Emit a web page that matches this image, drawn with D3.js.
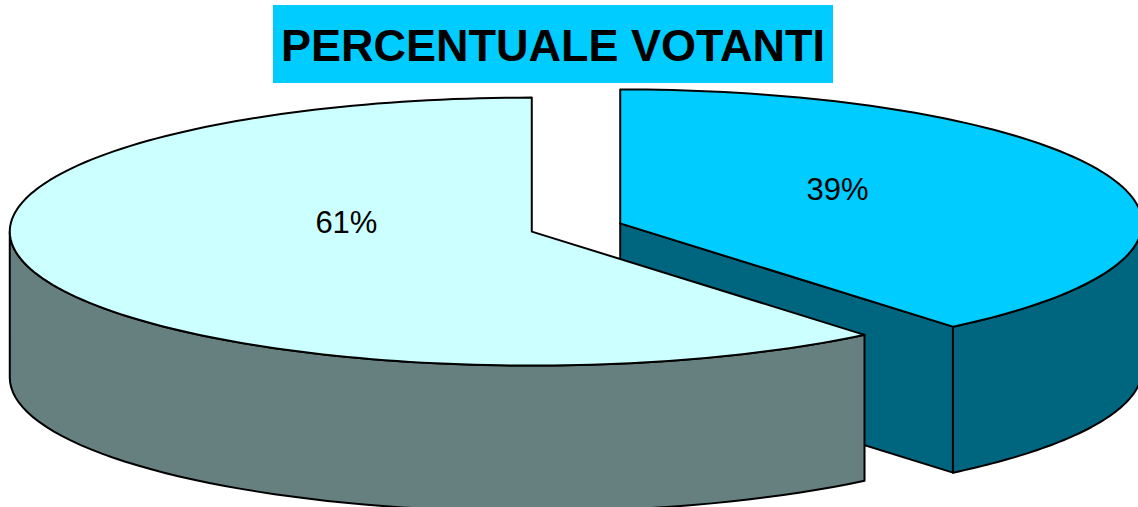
<!DOCTYPE html>
<html>
<head>
<meta charset="utf-8">
<script src="https://cdn.jsdelivr.net/npm/d3@7"></script>
<style>
    body { margin: 0; background: #fff; }
</style>
</head>
<body>
<script>
//data for the 3d pie
var categories = ["Votanti", "Non votanti"];
var values = [39, 61];
var labels = ["39%", "61%"];
var topColors = ["#00CCFF", "#CCFFFF"];
var sideColors = ["#006680", "#668080"];
var title = "PERCENTUALE VOTANTI";

window.onload = function () {
    var w = 1138, h = 507;

    var svg = d3.select("body")
        .append("svg")
        .attr("width", w)
        .attr("height", h);

    //title box
    var titleBox = svg.append("rect")
        .attr("x", 273)
        .attr("y", 5)
        .attr("width", 560)
        .attr("height", 78)
        .style("fill", "#00CCFF");

    svg.append("text")
        .attr("x", 553)
        .attr("y", 61)
        .attr("text-anchor", "middle")
        .attr("font-family", "Liberation Sans, Arial, sans-serif")
        .attr("font-weight", "bold")
        .attr("font-size", 45)
        .text(title);

    //ellipse geometry
    var cx = 576, cy = 227.5;
    var rx = 522, ry = 134;
    var depth = 146;
    var explode = 47;

    //pie layout, clockwise from 12 o'clock, no sorting
    var pie = d3.pie().sort(null).value(function (d) { return d; });
    var arcs = pie(values);

    //point on the top ellipse for a given angle
    function pt(c, a, dz) {
        return [c[0] + rx * Math.sin(a), c[1] - ry * Math.cos(a) + (dz || 0)];
    }

    var line = d3.line();

    var slices = arcs.map(function (d, i) {
        var mid = (d.startAngle + d.endAngle) / 2;
        var c = [cx + explode * Math.sin(mid), cy - explode * Math.cos(mid) * ry / rx];
        return { arc: d, i: i, c: c, mid: mid };
    });

    //draw the back slices first
    slices.sort(function (a, b) { return a.c[1] - b.c[1]; });

    var g = svg.append("g").attr("class", "pie");

    slices.forEach(function (s) {
        var a0 = s.arc.startAngle, a1 = s.arc.endAngle, c = s.c;

        //radial walls facing the viewer
        [[a0, -1], [a1, 1]].forEach(function (e) {
            if (e[1] * Math.sin(e[0]) > 0.001) {
                var p = pt(c, e[0]);
                var poly = [c, p, [p[0], p[1] + depth], [c[0], c[1] + depth]];
                g.append("path")
                    .attr("d", line(poly) + "Z")
                    .style("fill", sideColors[s.i])
                    .style("stroke", "#000")
                    .style("stroke-width", 2)
                    .style("stroke-linejoin", "round");
            }
        });

        //outer curved wall, only the front half
        var f0 = Math.max(a0, Math.PI / 2), f1 = Math.min(a1, Math.PI * 3 / 2);
        if (f1 > f0) {
            var steps = d3.range(0, 61).map(function (k) { return f0 + (f1 - f0) * k / 60; });
            var upper = steps.map(function (a) { return pt(c, a); });
            var lower = steps.slice().reverse().map(function (a) { return pt(c, a, depth); });
            g.append("path")
                .attr("d", line(upper.concat(lower)) + "Z")
                .style("fill", sideColors[s.i])
                .style("stroke", "#000")
                .style("stroke-width", 2)
                .style("stroke-linejoin", "round");
        }

        //top face
        var n = Math.max(2, Math.round((a1 - a0) * 40));
        var top = [c].concat(d3.range(0, n + 1).map(function (k) {
            return pt(c, a0 + (a1 - a0) * k / n);
        }));
        g.append("path")
            .attr("d", line(top) + "Z")
            .style("fill", topColors[s.i])
            .style("stroke", "#000")
            .style("stroke-width", 2)
            .style("stroke-linejoin", "round");
    });

    //percentage labels on the top faces
    slices.forEach(function (s) {
        svg.append("text")
            .attr("x", s.c[0] + 16 + rx * 0.41 * Math.sin(s.mid))
            .attr("y", s.c[1] - 22 - ry * 0.27 * Math.cos(s.mid))
            .attr("dy", "0.35em")
            .attr("text-anchor", "middle")
            .attr("font-family", "Liberation Sans, Arial, sans-serif")
            .attr("font-size", 31)
            .text(labels[s.i]);
    });
};
</script>
</body>
</html>
